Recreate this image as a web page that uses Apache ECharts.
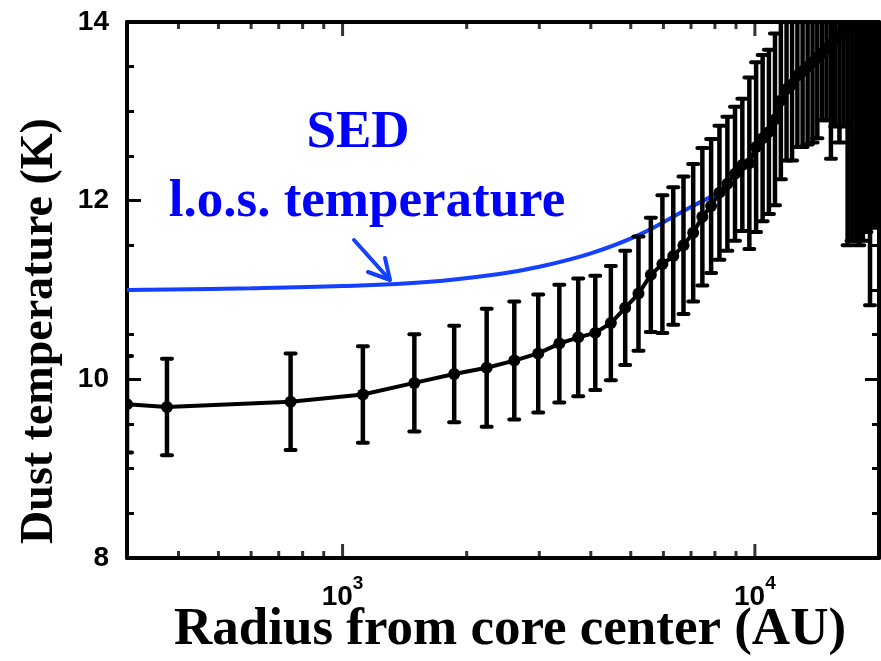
<!DOCTYPE html>
<html>
<head>
<meta charset="utf-8">
<script src="https://cdn.jsdelivr.net/npm/echarts@6/dist/echarts.min.js"></script>
<style>
  html, body { margin: 0; padding: 0; background: #fff; }
  #chart { width: 881px; height: 661px; }
</style>
</head>
<body>
<div id="chart"></div>
<script>
// Radial dust temperature profile of the core (radius in AU, temperature in K, 1-sigma error in K)
const radiusAU = [300, 375, 748, 1120, 1493, 1865, 2236, 2609, 2982, 3355,
  3728, 4101, 4474, 4847, 5220, 5593, 5966, 6339, 6712, 7085,
  7458, 7831, 8204, 8577, 8950, 9323, 9696, 10069, 10442, 10815,
  11188, 11561, 11934, 12307, 12680, 13053, 13426, 13799, 14172, 14545,
  14918, 15291, 15664, 16037, 16410, 16783, 17156, 17529, 17902, 18275,
  18648, 19021, 19394, 19767];
const dustTempK = [9.72, 9.69, 9.75, 9.83, 9.96, 10.06, 10.13, 10.21, 10.29, 10.40,
  10.47, 10.52, 10.63, 10.80, 10.96, 11.17, 11.29, 11.38, 11.50, 11.64,
  11.82, 11.94, 12.09, 12.19, 12.30, 12.40, 12.42, 12.60, 12.70, 12.77,
  12.91, 13.12, 13.25, 13.30, 13.40, 13.45, 13.50, 13.55, 13.60, 13.65,
  13.70, 13.75, 13.80, 13.85, 13.90, 13.95, 14.00, 14.05, 14.05, 14.10,
  14.10, 14.15, 14.15, 14.20];
const dustTempErr = [0.54, 0.54, 0.54, 0.54, 0.545, 0.54, 0.66, 0.66, 0.66, 0.66,
  0.66, 0.64, 0.64, 0.64, 0.64, 0.64, 0.77, 0.77, 0.77, 0.77,
  0.77, 0.75, 0.75, 0.75, 0.75, 0.74, 0.96, 0.95, 0.93, 0.92,
  0.96, 0.88, 0.80, 0.85, 0.80, 0.85, 0.87, 0.90, 0.90, 0.75,
  0.80, 1.28, 0.97, 1.20, 1.07, 2.45, 2.45, 2.50, 2.55, 2.55,
  2.45, 3.32, 2.45, 2.50];

// Line-of-sight temperature from the SED fit
const sedRadiusAU = [300, 600, 1000, 1600, 2400, 3000, 4000, 5250, 7000, 8650];
const sedTempK = [11.00, 11.02, 11.045, 11.09, 11.18, 11.26, 11.41, 11.62, 11.93, 12.14];

// Axis ranges and tick positions of the logarithmic radius axis
const xRange = [300, 20000];
const yRange = [8, 14];
const yStep = 2;
const xMajorTicks = [1000, 10000];
const xMinorTicks = [400, 500, 600, 700, 800, 900, 2000, 3000, 4000, 5000, 6000, 7000, 8000, 9000];

const chart = echarts.init(document.getElementById('chart'), null, { renderer: 'canvas' });

const profileData = radiusAU.map((r, i) => [r, dustTempK[i], dustTempErr[i]]);
const sedData = sedRadiusAU.map((r, i) => [r, sedTempK[i]]);

const axisColor = '#000';
const blueLine = '#1440ff';
const blueText = '#0000ff';

function decadeLabel(v) {
  const p = Math.round(Math.log10(v));
  if (Math.abs(Math.log10(v) - p) > 1e-6) return '';
  return '{b|10}{s|' + p + '}';
}

function xAxisDef(position, showLabel) {
  return {
    type: 'log',
    logBase: 10,
    min: xRange[0],
    max: xRange[1],
    position: position,
    axisLine: { show: true, onZero: false, lineStyle: { color: axisColor, width: 4 } },
    axisTick: { show: false },
    minorTick: { show: false },
    splitLine: { show: false },
    minorSplitLine: { show: false },
    axisLabel: {
      show: showLabel,
      margin: 16,
      formatter: decadeLabel,
      showMinLabel: false,
      showMaxLabel: false,
      fontFamily: 'Liberation Sans',
      fontWeight: 'bold',
      fontSize: 28,
      color: '#000',
      rich: {
        b: { fontFamily: 'Liberation Sans', fontWeight: 'bold', fontSize: 28, color: '#000', lineHeight: 46 },
        s: { fontFamily: 'Liberation Sans', fontWeight: 'bold', fontSize: 19, color: '#000', lineHeight: 20, verticalAlign: 'top' }
      }
    }
  };
}

function yAxisDef(position, showLabel) {
  return {
    type: 'value',
    min: yRange[0],
    max: yRange[1],
    interval: yStep,
    position: position,
    axisLine: { show: true, onZero: false, lineStyle: { color: axisColor, width: 4 } },
    axisTick: { show: true, inside: true, length: 14, lineStyle: { color: axisColor, width: 3 } },
    minorTick: { show: true, splitNumber: 4, length: 7, lineStyle: { color: axisColor, width: 3 } },
    splitLine: { show: false },
    axisLabel: {
      show: showLabel,
      margin: 18,
      fontFamily: 'Liberation Sans',
      fontWeight: 'bold',
      fontSize: 28,
      color: '#000'
    }
  };
}

// Error bars with caps and a filled dot at each measured point
function renderErrorBar(params, api) {
  const r = api.value(0), t = api.value(1), e = api.value(2);
  const c = api.coord([r, t]);
  const hi = api.coord([r, t + e]);
  const lo = api.coord([r, t - e]);
  const hw = 5;
  const stroke = { stroke: '#000', lineWidth: 4, lineCap: 'round' };
  return {
    type: 'group',
    children: [
      { type: 'line', shape: { x1: c[0], y1: hi[1], x2: c[0], y2: lo[1] }, style: { stroke: '#000', lineWidth: 4.5 } },
      { type: 'line', shape: { x1: c[0] - hw, y1: hi[1], x2: c[0] + hw, y2: hi[1] }, style: stroke },
      { type: 'line', shape: { x1: c[0] - hw, y1: lo[1], x2: c[0] + hw, y2: lo[1] }, style: stroke },
      { type: 'circle', shape: { cx: c[0], cy: c[1], r: 6 }, style: { fill: '#000' } }
    ]
  };
}

// Tick marks on the bottom and top frame edges of the radius axis (outer half is masked)
function tickSeries(values, yVal, len) {
  return {
    type: 'scatter',
    data: values.map(v => [v, yVal]),
    symbol: 'rect',
    symbolSize: [3, len * 2],
    itemStyle: { color: axisColor },
    clip: false,
    silent: true,
    z: 1
  };
}

chart.setOption({
  animation: false,
  backgroundColor: '#fff',
  grid: { left: 127, right: 2, top: 22, bottom: 103, containLabel: false },
  xAxis: [xAxisDef('bottom', true), xAxisDef('top', false)],
  yAxis: [yAxisDef('left', true), yAxisDef('right', false)],
  series: [
    tickSeries(xMinorTicks, yRange[0], 7),
    tickSeries(xMinorTicks, yRange[1], 7),
    tickSeries(xMajorTicks, yRange[0], 14),
    tickSeries(xMajorTicks, yRange[1], 14),
    {
      name: 'SED l.o.s. temperature',
      type: 'line',
      data: sedData,
      smooth: 0.4,
      showSymbol: false,
      clip: true,
      lineStyle: { color: blueLine, width: 4 },
      z: 3
    },
    {
      name: 'profile line',
      type: 'line',
      data: profileData.map(d => [d[0], d[1]]),
      showSymbol: false,
      clip: true,
      lineStyle: { color: '#000', width: 4 },
      z: 4
    },
    {
      name: 'profile points',
      type: 'custom',
      data: profileData,
      renderItem: renderErrorBar,
      clip: true,
      encode: { x: 0, y: 1 },
      z: 5
    }
  ],
  graphic: [
    // White bands just outside the frame hide the outer half of the radius-axis tick marks
    { type: 'rect', z: 50, shape: { x: 129, y: 560, width: 752, height: 12 }, style: { fill: '#fff' }, silent: true },
    { type: 'rect', z: 50, shape: { x: 129, y: 0, width: 752, height: 20 }, style: { fill: '#fff' }, silent: true },
    {
      type: 'text', x: 40, y: 331, rotation: Math.PI / 2,
      style: { text: 'Dust temperature (K)', font: 'bold 46px "Liberation Serif"', fill: '#000', align: 'center', verticalAlign: 'middle' }
    },
    {
      type: 'text', x: 510, y: 630,
      style: { text: 'Radius from core center (AU)', font: 'bold 53px "Liberation Serif"', fill: '#000', align: 'center', verticalAlign: 'middle' }
    },
    {
      type: 'text', x: 358, y: 133,
      style: { text: 'SED', font: 'bold 53px "Liberation Serif"', fill: blueText, align: 'center', verticalAlign: 'middle' }
    },
    {
      type: 'text', x: 367, y: 202,
      style: { text: 'l.o.s. temperature', font: 'bold 53px "Liberation Serif"', fill: blueText, align: 'center', verticalAlign: 'middle' }
    },
    {
      type: 'line', shape: { x1: 354, y1: 240, x2: 389, y2: 279 },
      style: { stroke: blueLine, lineWidth: 4, lineCap: 'round' }
    },
    {
      type: 'polyline', shape: { points: [[368, 272], [390, 280], [385, 258]] },
      style: { stroke: blueLine, lineWidth: 4, lineCap: 'round', lineJoin: 'round', fill: null }
    }
  ]
});
</script>
</body>
</html>
